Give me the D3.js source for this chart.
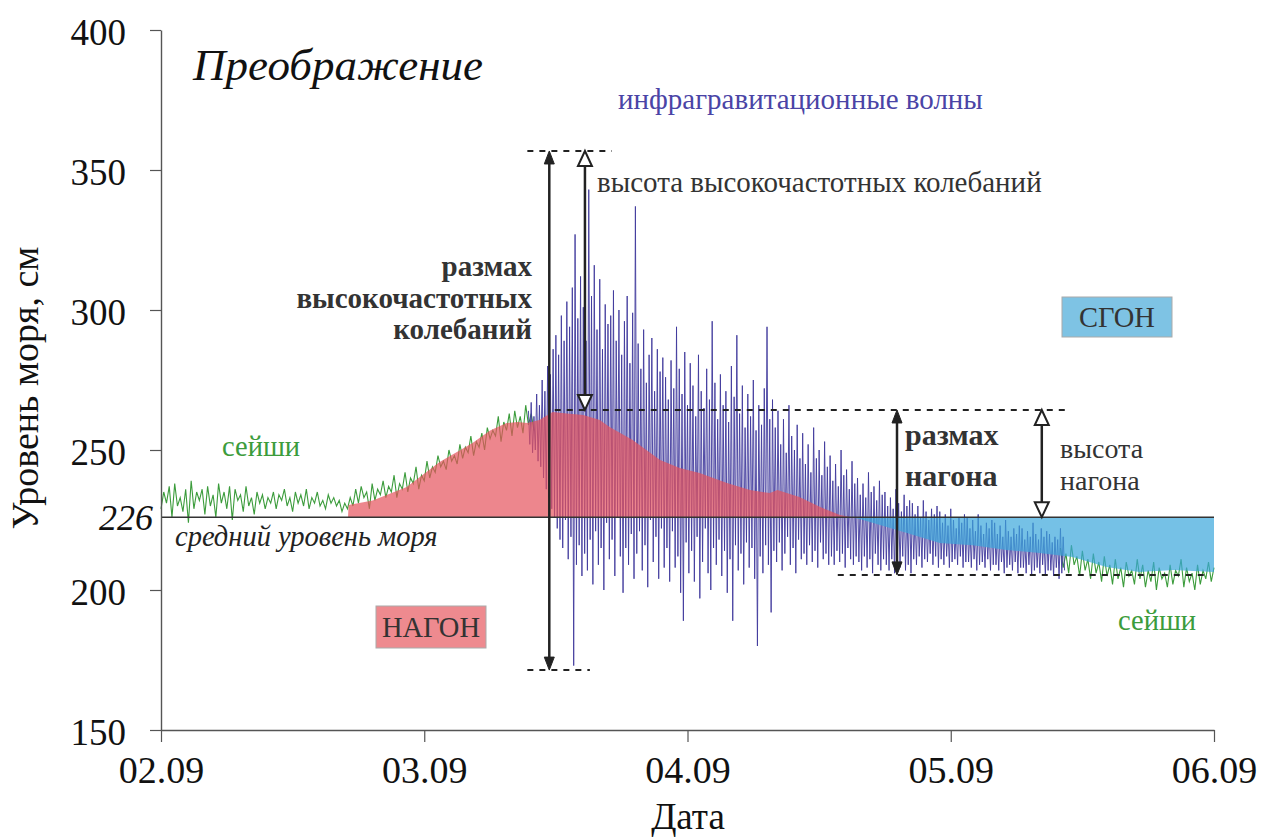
<!DOCTYPE html>
<html>
<head>
<meta charset="utf-8">
<script src="https://cdn.jsdelivr.net/npm/d3@7"></script>
<style>
  body { margin: 0; background: #fff; }
  svg text { font-family: "Liberation Serif", "Times New Roman", serif; }
</style>
</head>
<body>
<svg id="chart" width="1262" height="838"></svg>
<script>
// time is in hours since 02.09 00:00
var dayTicks = [0, 24, 48, 72, 96];
var dayLabels = ["02.09", "03.09", "04.09", "05.09", "06.09"];
var levelTicks = [150, 200, 250, 300, 350, 400];
var meanLevel = 226;

// smoothed surge (нагон / сгон), cm
var surgeHours = [17.05, 17.1, 19.3, 22.4, 25.4, 28.4, 30, 31.5, 32.5, 33.4, 34.5, 35.7, 37, 38.5, 40, 40.9,
  43, 45.5, 47.3, 49.1, 51.6, 53.7, 55.5, 56.2, 58.2, 60.1, 61.9, 63.7, 67.1, 71, 74, 77.1, 80.1, 83.1,
  86.2, 89.2, 92.3, 96];
var surgeLevel = [226, 230.4, 232, 236.8, 245.7, 252.5, 257, 259.6, 260, 259.6, 260.7, 263.6, 263, 262.5, 260.7, 258.2,
  253.6, 246.4, 243.6, 241.8, 238.2, 235.7, 234.6, 235.7, 233.2, 229.6, 226.8, 225.4, 221.4, 216.8, 216, 214.3, 213.2, 211.8,
  208.2, 206.4, 207.1, 206.4];

// seiches before the storm, sampled every 15 min from 02.09 00:00
var seicheStart = 0, seicheStep = 0.25;
var seicheLevel = [
  229, 235, 231, 237, 226, 238, 230, 233, 228, 236,
  224, 239, 229, 235, 232, 236, 227, 237, 230, 234,
  226, 238, 231, 235, 229, 237, 225, 236, 232, 234,
  228, 237, 230, 233, 227, 235, 231, 234, 229, 233,
  231, 235, 229, 234, 232, 236, 230, 233, 228, 235,
  231, 234, 230, 236, 229, 233, 231, 235, 230, 232,
  229, 234, 231, 233, 230, 232, 228, 231, 229, 233,
  230, 236, 231, 237, 233, 235, 229, 238, 232, 236,
  234, 239, 233, 237, 235, 241, 233, 238, 236, 242,
  235, 240, 238, 244, 236, 241, 239, 246, 240, 244,
  242, 248, 244, 246, 243, 250, 246, 248, 245, 252,
  247, 251, 249, 255, 248, 253, 251, 256, 250, 258,
  254, 257, 255, 262, 253, 260, 257, 263, 255, 264,
  258, 262, 256, 266, 259, 263, 257];

// infragravity waves, every 7.5 min from 03.09 09:30
var igwStart = 33.5, igwStep = 0.125;
var igwLevel = [
  264, 252, 267, 249, 262, 250, 270, 246, 266, 244, 275, 240, 271, 236, 280, 233, 277, 229, 286, 226,
  291, 222, 284, 218, 298, 215, 289, 225, 303, 211, 294, 219, 308, 173, 327, 209, 297, 216, 312, 205,
  301, 213, 289, 207, 343, 218, 305, 202, 316, 221, 293, 209, 311, 215, 286, 200, 302, 224, 295, 211,
  298, 218, 307, 205, 289, 226, 300, 212, 284, 199, 296, 215, 305, 209, 281, 220, 299, 204, 337, 213,
  288, 221, 279, 207, 293, 216, 274, 201, 284, 225, 290, 210, 271, 219, 286, 204, 278, 222, 283, 208,
  276, 215, 268, 203, 282, 221, 272, 208, 294, 212, 279, 199, 270, 189, 285, 217, 266, 206, 281, 214,
  273, 203, 262, 219, 284, 197, 271, 210, 265, 222, 279, 206, 268, 200, 296, 215, 274, 209, 261, 218,
  277, 205, 266, 214, 271, 199, 260, 211, 280, 189, 269, 216, 291, 207, 263, 213, 273, 202, 258, 217,
  270, 208, 262, 215, 275, 204, 257, 180, 266, 212, 259, 206, 272, 216, 294, 209, 261, 192, 268, 214,
  258, 210, 264, 217, 252, 207, 261, 213, 249, 219, 266, 209, 255, 215, 250, 206, 259, 218, 247, 211,
  256, 213, 245, 209, 252, 216, 242, 210, 258, 214, 247, 208, 250, 217, 241, 211, 253, 213, 244, 209,
  248, 212, 239, 209, 245, 214, 237, 210, 250, 213, 241, 208, 243, 215, 236, 211, 246, 209, 238, 212,
  240, 210, 234, 207, 238, 212, 233, 208, 242, 211, 235, 206, 237, 213, 232, 209, 239, 207, 234, 211,
  235, 209, 230, 207, 233, 211, 229, 206, 236, 210, 231, 208, 228, 212, 234, 207, 230, 209, 232, 206,
  231, 211, 227, 209, 230, 212, 226, 208, 232, 211, 228, 210, 225, 213, 229, 209, 227, 212, 230, 208,
  228, 211, 224, 209, 227, 212, 223, 208, 229, 210, 225, 211, 222, 209, 226, 212, 224, 208, 227, 210,
  226, 210, 222, 208, 225, 211, 221, 207, 227, 209, 223, 210, 220, 208, 224, 211, 222, 207, 225, 209,
  224, 209, 220, 207, 223, 210, 219, 206, 225, 208, 221, 209, 219, 207, 222, 210, 220, 206, 223, 208,
  222, 208, 218, 206, 221, 209, 219, 205, 224, 207, 220, 208, 218, 206, 222, 209, 219, 205, 221, 207,
  220, 207, 217, 205, 219, 208, 218, 204, 222, 206, 219, 207];

// seiches after the storm, every 15 min from 05.09 10:00
var seiche2Start = 82, seiche2Step = 0.25;
var seiche2Level = [
  215, 208, 213, 206, 216, 209, 212, 205, 214, 207,
  211, 204, 213, 206, 210, 203, 212, 205, 209, 202,
  211, 204, 208, 201, 210, 205, 207, 202, 211, 204,
  209, 201, 207, 203, 210, 200, 208, 204, 206, 201,
  209, 202, 207, 205, 211, 201, 208, 203, 206, 200,
  209, 202, 207, 204, 210, 203, 208];

// annotation levels (cm)
var hfTop = 356.8, hfBottom = 171.4, surgeTop = 264.3, surgeBottom = 205.4;

var svg = d3.select("#chart");
var x = d3.scaleLinear().domain([0, 96]).range([161, 1214]);
var y = d3.scaleLinear().domain([150, 400]).range([730, 30]);

function toPoints(start, step, vals) {
  return vals.map(function (v, i) { return { h: start + i * step, v: v }; });
}

var line = d3.line().x(function (d) { return x(d.h); }).y(function (d) { return y(d.v); });

var defs = svg.append("defs");
defs.append("clipPath").attr("id", "above").append("rect")
  .attr("x", 0).attr("y", 0).attr("width", 1262).attr("height", y(meanLevel));
defs.append("clipPath").attr("id", "below").append("rect")
  .attr("x", 0).attr("y", y(meanLevel)).attr("width", 1262).attr("height", 730 - y(meanLevel));

// noisy records first, fills go on top with transparency
svg.append("path").datum(toPoints(seicheStart, seicheStep, seicheLevel))
  .attr("d", line).attr("fill", "none").attr("stroke", "#3c9c3c").attr("stroke-width", 1.1);
svg.append("path").datum(toPoints(seiche2Start, seiche2Step, seiche2Level))
  .attr("d", line).attr("fill", "none").attr("stroke", "#3c9c3c").attr("stroke-width", 1.1);
svg.append("path").datum(toPoints(igwStart, igwStep, igwLevel))
  .attr("d", line).attr("fill", "none").attr("stroke", "#403a9c").attr("stroke-width", 1)
  .attr("stroke-opacity", 0.9);

var surge = surgeHours.map(function (h, i) { return { h: h, v: surgeLevel[i] }; });
var area = d3.area().x(function (d) { return x(d.h); })
  .y0(y(meanLevel)).y1(function (d) { return y(d.v); });

svg.append("path").datum(surge).attr("d", area).attr("clip-path", "url(#above)")
  .attr("fill", "#e5535d").attr("fill-opacity", 0.7);
svg.append("path").datum(surge).attr("d", area).attr("clip-path", "url(#below)")
  .attr("fill", "#3aa6dc").attr("fill-opacity", 0.7);

// mean sea level
svg.append("line").attr("x1", x(0)).attr("x2", x(96))
  .attr("y1", y(meanLevel)).attr("y2", y(meanLevel))
  .attr("stroke", "#333").attr("stroke-width", 1.5);

// axes
var yAxis = svg.append("g").attr("transform", "translate(" + x(0) + ",0)")
  .call(d3.axisLeft(y).tickValues(levelTicks).tickSize(11).tickSizeOuter(0).tickPadding(24));
var xAxis = svg.append("g").attr("transform", "translate(0," + y(150) + ")")
  .call(d3.axisBottom(x).tickValues(dayTicks).tickSize(12).tickSizeOuter(0).tickPadding(14)
    .tickFormat(function (d, i) { return dayLabels[i]; }));
[yAxis, xAxis].forEach(function (g) {
  g.attr("font-family", null);
  g.select(".domain").attr("stroke", "#555").attr("stroke-width", 1.4);
  g.selectAll(".tick line").attr("stroke", "#555").attr("stroke-width", 1.2);
  g.selectAll(".tick text").attr("fill", "#111").style("font-size", "37px");
});
yAxis.selectAll(".tick text").attr("dy", "0.4em");
xAxis.selectAll(".tick text").style("font-size", "38px");

svg.append("text").attr("x", 688).attr("y", 829).attr("text-anchor", "middle")
  .style("font-size", "37px").attr("fill", "#111").text("Дата");
svg.append("text").attr("transform", "translate(38,388) rotate(-90)")
  .attr("text-anchor", "middle").style("font-size", "38px").attr("fill", "#111")
  .text("Уровень моря, см");
svg.append("text").attr("x", 153).attr("y", y(meanLevel)).attr("dy", "0.35em")
  .attr("text-anchor", "end").style("font-size", "36px").style("font-style", "italic")
  .attr("fill", "#111").text("226");
svg.append("text").attr("x", 175).attr("y", 546).style("font-size", "28.5px")
  .style("font-style", "italic").attr("fill", "#222").text("средний уровень моря");

svg.append("text").attr("x", 193).attr("y", 80).style("font-size", "45px")
  .style("font-style", "italic").attr("fill", "#111").text("Преображение");

svg.append("text").attr("x", 222).attr("y", 456).style("font-size", "28.5px")
  .attr("fill", "#3c9c3c").text("сейши");
svg.append("text").attr("x", 1118).attr("y", 630).style("font-size", "28.5px")
  .attr("fill", "#3c9c3c").text("сейши");
svg.append("text").attr("x", 618).attr("y", 109).style("font-size", "29px")
  .attr("fill", "#4a44a6").text("инфрагравитационные волны");
svg.append("text").attr("x", 597).attr("y", 192).style("font-size", "29px")
  .attr("fill", "#333").text("высота высокочастотных колебаний");

var boldLines = [["размах", 276], ["высокочастотных", 308], ["колебаний", 339]];
boldLines.forEach(function (b) {
  svg.append("text").attr("x", 532).attr("y", b[1]).attr("text-anchor", "end")
    .style("font-size", "29px").style("font-weight", "bold").attr("fill", "#333").text(b[0]);
});
[["размах", 445], ["нагона", 486]].forEach(function (b) {
  svg.append("text").attr("x", 905).attr("y", b[1])
    .style("font-size", "30px").style("font-weight", "bold").attr("fill", "#333").text(b[0]);
});
[["высота", 458], ["нагона", 490]].forEach(function (b) {
  svg.append("text").attr("x", 1060).attr("y", b[1])
    .style("font-size", "28px").attr("fill", "#333").text(b[0]);
});

// labelled boxes
function box(cx, cy, w, h, fill, label) {
  svg.append("rect").attr("x", cx - w / 2).attr("y", cy - h / 2).attr("width", w).attr("height", h)
    .attr("fill", fill).attr("stroke", "#aaa").attr("stroke-width", 1);
  svg.append("text").attr("x", cx).attr("y", cy).attr("dy", "0.35em").attr("text-anchor", "middle")
    .style("font-size", "28.5px").attr("fill", "#333").text(label);
}
box(1117, 317, 110, 40, "#7ec3e4", "СГОН");
box(431, 627, 110, 42, "#ee8a8f", "НАГОН");

// dashed guide lines
function dashed(h1, h2, v) {
  svg.append("line").attr("x1", x(h1)).attr("x2", x(h2)).attr("y1", y(v)).attr("y2", y(v))
    .attr("stroke", "#222").attr("stroke-width", 2).attr("stroke-dasharray", "6,6");
}
dashed(33.4, 41.1, hfTop);
dashed(33.4, 39.1, hfBottom);
dashed(35.9, 82.4, surgeTop);
dashed(61.7, 95.6, surgeBottom);

// arrows
function arrow(h, vTop, vBot, hollow) {
  var cx = x(h), y1 = y(vTop), y2 = y(vBot);
  var L = hollow ? 15 : 13, W = hollow ? 7 : 5;
  svg.append("line").attr("x1", cx).attr("x2", cx).attr("y1", y1 + L).attr("y2", y2 - L)
    .attr("stroke", "#222").attr("stroke-width", 2.5);
  [[y1, 1], [y2, -1]].forEach(function (p) {
    var tip = p[0], dir = p[1];
    svg.append("path")
      .attr("d", "M" + cx + "," + tip + "L" + (cx - W) + "," + (tip + dir * L) + "L" + (cx + W) + "," + (tip + dir * L) + "Z")
      .attr("fill", hollow ? "#fff" : "#222").attr("stroke", "#222").attr("stroke-width", hollow ? 2 : 1);
  });
}
arrow(35.4, hfTop, hfBottom, false);
arrow(38.65, hfTop, surgeTop, true);
arrow(67.1, surgeTop, surgeBottom, false);
arrow(80.3, surgeTop, meanLevel, true);
</script>
</body>
</html>
